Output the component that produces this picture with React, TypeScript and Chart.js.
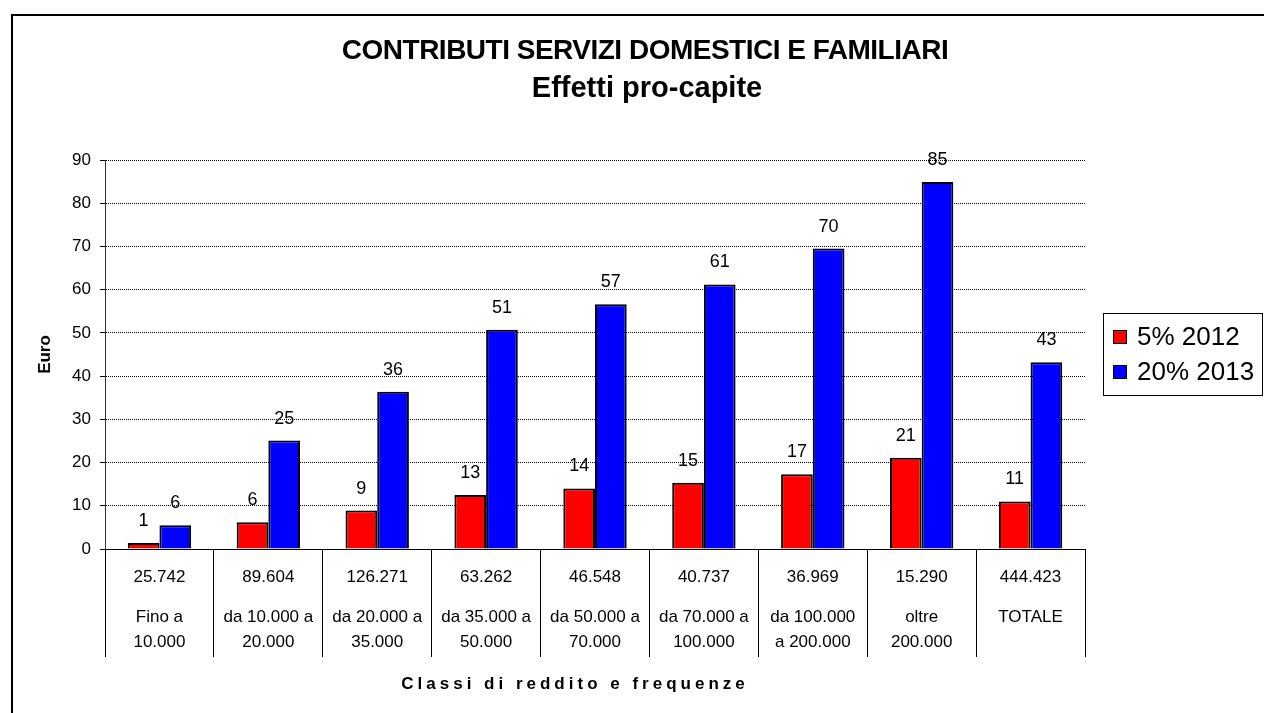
import React, { useEffect, useRef } from 'react';
import { Chart, registerables } from 'chart.js';

Chart.register(...registerables);

const FONT = "'Liberation Sans', Arial, sans-serif";

const titleLines = ['CONTRIBUTI SERVIZI DOMESTICI E FAMILIARI', 'Effetti pro-capite'];
const frequencies = ['25.742', '89.604', '126.271', '63.262', '46.548', '40.737', '36.969', '15.290', '444.423'];
const classLabels = [
  ['Fino a', '10.000'],
  ['da 10.000 a', '20.000'],
  ['da 20.000 a', '35.000'],
  ['da 35.000 a', '50.000'],
  ['da 50.000 a', '70.000'],
  ['da 70.000 a', '100.000'],
  ['da 100.000', 'a 200.000'],
  ['oltre', '200.000'],
  ['TOTALE'],
];
const seriesNames = ['5% 2012', '20% 2013'];
const series2012 = [1.4, 6.2, 8.9, 12.5, 14.0, 15.3, 17.3, 21.1, 11.0];
const series2013 = [5.5, 25.1, 36.4, 50.7, 56.6, 61.2, 69.5, 84.9, 43.2];
const seriesColors = ['#FF0000', '#0000FF'];
const yMin = 0;
const yMax = 90;
const yStep = 10;
const yTitle = 'Euro';
const xTitle = 'Classi di reddito e frequenze';

const decorPlugin = {
  id: 'excelDecor',
  beforeDraw(chart: any) {
    const ctx = chart.ctx;
    ctx.save();
    ctx.fillStyle = '#FFFFFF';
    ctx.fillRect(0, 0, chart.width, chart.height);
    ctx.restore();
  },
  afterDraw(chart: any) {
    const ctx = chart.ctx;
    const area = chart.chartArea;
    const xs = chart.scales.x;
    ctx.save();

    // outer frame
    ctx.strokeStyle = '#000';
    ctx.lineWidth = 2;
    ctx.beginPath();
    ctx.moveTo(12, chart.height + 2);
    ctx.lineTo(12, 15);
    ctx.lineTo(chart.width + 2, 15);
    ctx.stroke();

    // titles
    ctx.fillStyle = '#000';
    ctx.textAlign = 'center';
    ctx.textBaseline = 'middle';
    ctx.font = `bold 28px ${FONT}`;
    (ctx as any).letterSpacing = '-0.5px';
    ctx.fillText(titleLines[0], 645, 51);
    (ctx as any).letterSpacing = '0px';
    ctx.font = `bold 29px ${FONT}`;
    ctx.fillText(titleLines[1], 647, 89);

    // data labels
    ctx.font = `18px ${FONT}`;
    ctx.textBaseline = 'alphabetic';
    chart.data.datasets.forEach((ds: any, di: number) => {
      const meta = chart.getDatasetMeta(di);
      meta.data.forEach((bar: any, i: number) => {
        const v = ds.data[i];
        ctx.fillText(String(Math.round(v)), bar.x, bar.y - 17);
      });
    });

    // data table texts
    ctx.font = `17px ${FONT}`;
    ctx.textBaseline = 'middle';
    chart.data.labels.forEach((_: any, i: number) => {
      const cx = xs.getPixelForValue(i);
      ctx.fillText(frequencies[i], cx, area.bottom + 28);
      const lines = classLabels[i];
      lines.forEach((ln: string, k: number) => {
        ctx.fillText(ln, cx, area.bottom + 68 + k * 25);
      });
    });

    // x axis title
    ctx.font = `bold 17px ${FONT}`;
    (ctx as any).letterSpacing = '4px';
    ctx.fillText(xTitle, 575, 684);
    (ctx as any).letterSpacing = '0px';

    // legend
    const lx = 1103, ly = 313, lw = 159, lh = 82;
    ctx.lineWidth = 1;
    ctx.strokeStyle = '#000';
    ctx.strokeRect(lx + 0.5, ly + 0.5, lw, lh);
    ctx.font = `26px ${FONT}`;
    ctx.textAlign = 'left';
    chart.data.datasets.forEach((ds: any, di: number) => {
      const cy = ly + 24 + di * 35;
      ctx.fillStyle = ds.backgroundColor;
      ctx.fillRect(lx + 10, cy - 7, 14, 14);
      ctx.strokeStyle = '#000';
      ctx.lineWidth = 1;
      ctx.strokeRect(lx + 10.5, cy - 6.5, 13, 13);
      ctx.fillStyle = '#000';
      ctx.fillText(ds.label, lx + 34, cy + 1);
    });

    ctx.restore();
  },
};

export default function App() {
  const canvasRef = useRef<HTMLCanvasElement | null>(null);

  useEffect(() => {
    const canvas = canvasRef.current;
    if (!canvas) return;
    const chart = new Chart(canvas, {
      type: 'bar',
      data: {
        labels: frequencies,
        datasets: [
          {
            label: seriesNames[0],
            data: series2012,
            backgroundColor: seriesColors[0],
            borderColor: '#000',
            borderWidth: 2,
            barPercentage: 1,
            categoryPercentage: 0.582,
          },
          {
            label: seriesNames[1],
            data: series2013,
            backgroundColor: seriesColors[1],
            borderColor: '#000',
            borderWidth: 2,
            barPercentage: 1,
            categoryPercentage: 0.582,
          },
        ],
      },
      options: {
        responsive: false,
        animation: false,
        events: [],
        layout: { padding: { top: 160, left: 0, right: 179, bottom: 0 } },
        plugins: {
          legend: { display: false },
          title: { display: false },
          tooltip: { enabled: false },
        },
        scales: {
          x: {
            offset: true,
            grid: {
              display: true,
              offset: true,
              drawOnChartArea: false,
              drawTicks: true,
              tickLength: 108,
              tickColor: '#000',
              tickWidth: 1,
              color: '#000',
            },
            ticks: { display: false },
            border: { display: true, color: '#000', width: 1 },
            afterFit: (s: any) => {
              s.height = 164;
            },
          },
          y: {
            min: yMin,
            max: yMax,
            ticks: {
              stepSize: yStep,
              color: '#000',
              padding: 9,
              font: { size: 17, family: FONT },
            },
            grid: {
              color: '#000',
              lineWidth: 1,
              drawTicks: true,
              tickLength: 5,
              tickColor: '#000',
              tickWidth: 1,
              tickBorderDash: [],
            },
            border: { display: true, color: '#333', width: 1, dash: [1, 1] },
            title: {
              display: true,
              text: yTitle,
              color: '#000',
              font: { size: 17, weight: 'bold', family: FONT },
              padding: { top: 35, bottom: 0 },
            },
            afterFit: (s: any) => {
              s.width = 105;
            },
          },
        },
      },
      plugins: [decorPlugin],
    } as any);
    return () => chart.destroy();
  }, []);

  return (
    <div style={{ position: 'absolute', left: 0, top: 0, width: 1264, height: 713 }}>
      <canvas ref={canvasRef} width={1264} height={713} style={{ width: 1264, height: 713, display: 'block' }} />
    </div>
  );
}
